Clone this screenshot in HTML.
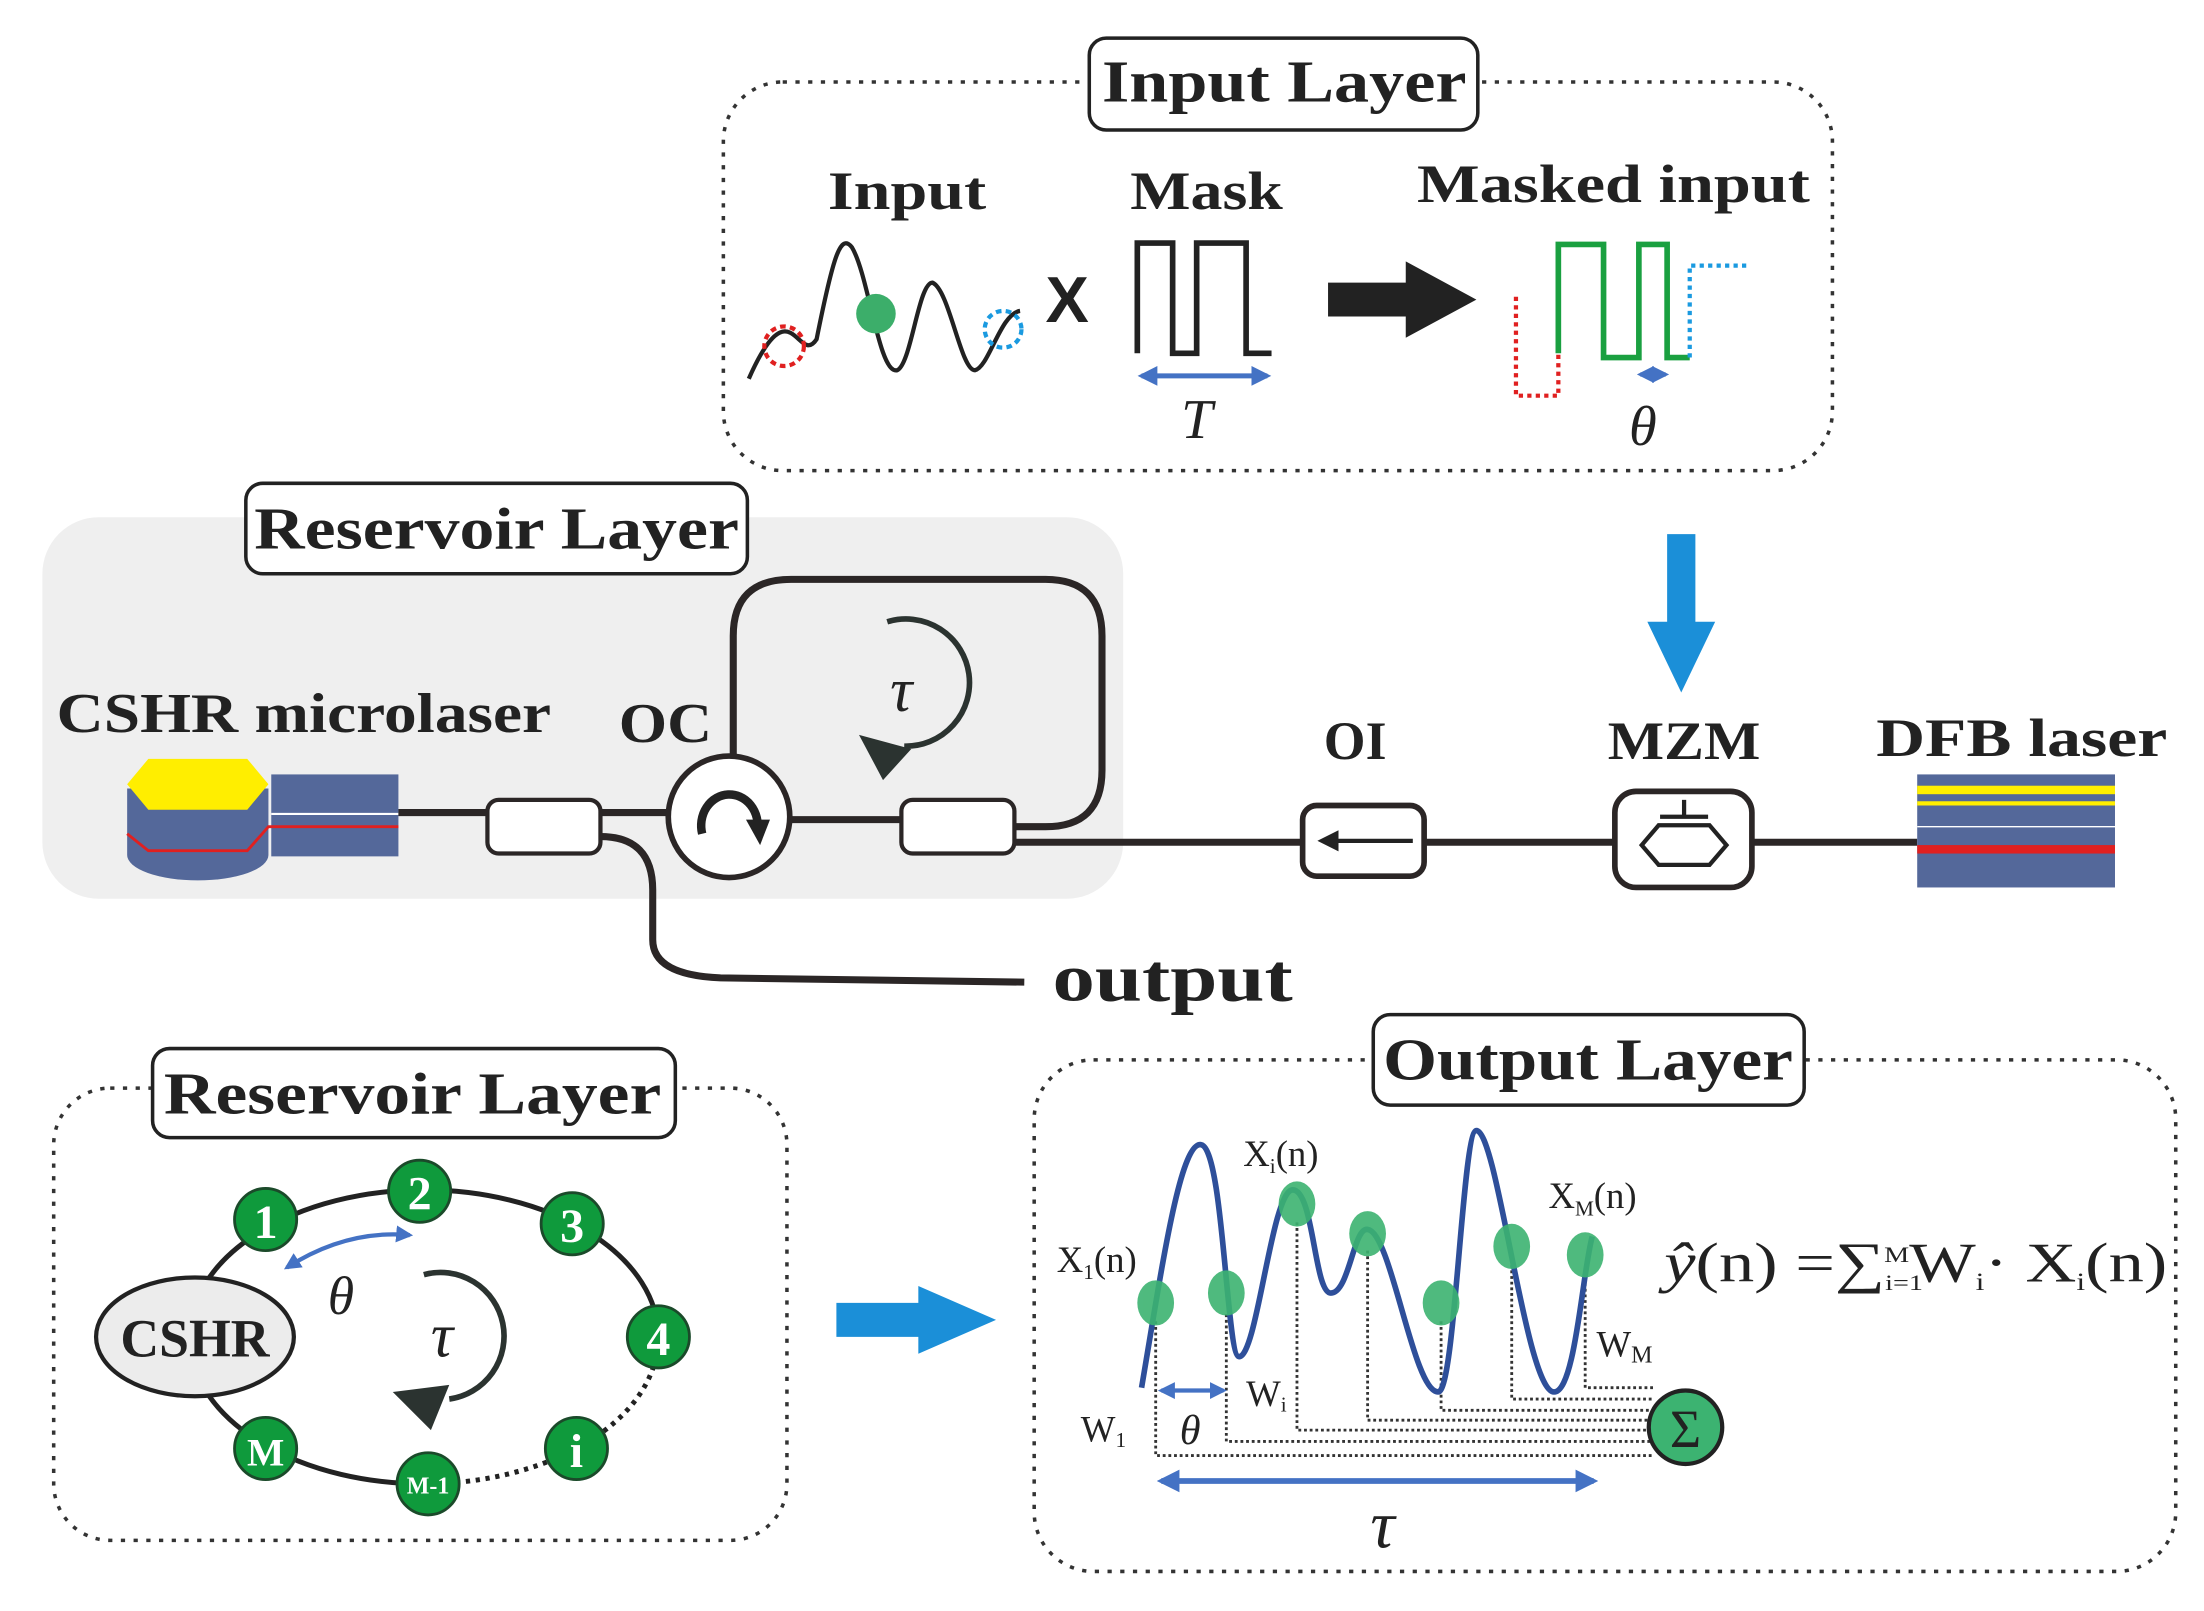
<!DOCTYPE html>
<html><head><meta charset="utf-8"><style>html,body{margin:0;padding:0;background:#fff}svg{display:block}</style></head>
<body>
<svg width="2204" height="1611" viewBox="0 0 1560 1140" preserveAspectRatio="none" xmlns="http://www.w3.org/2000/svg" font-family="Liberation Serif, serif">
<defs>
<marker id="bh" viewBox="0 0 10 10" refX="8" refY="5" markerWidth="4" markerHeight="4" orient="auto-start-reverse"><path d="M0,0L10,5L0,10z" fill="#4472c4"/></marker>
<marker id="kh" viewBox="0 0 10 10" refX="5" refY="5" markerWidth="5" markerHeight="5" orient="auto"><path d="M0,0L10,5L0,10z" fill="#222"/></marker>
</defs>
<!-- Input layer -->
<rect x="512" y="58" width="785" height="275" rx="42" fill="none" stroke="#333" stroke-width="2.5" stroke-dasharray="3,6"/>
<rect x="771" y="27" width="275" height="65" rx="12" fill="#fff" stroke="#222" stroke-width="2.5"/>
<text x="780" y="72" font-size="42" font-weight="bold" fill="#222" textLength="258" lengthAdjust="spacingAndGlyphs">Input Layer</text>
<text x="586" y="148" font-size="38" font-weight="bold" fill="#222" textLength="112" lengthAdjust="spacingAndGlyphs">Input</text>
<text x="800" y="148" font-size="38" font-weight="bold" fill="#222" textLength="108" lengthAdjust="spacingAndGlyphs">Mask</text>
<text x="1003" y="143" font-size="38" font-weight="bold" fill="#222" textLength="278" lengthAdjust="spacingAndGlyphs">Masked input</text>
<path d="M530,268 C560,200 565,260 578,240 C590,180 595,165 603,175 C615,195 622,265 635,262 C645,258 650,200 660,200 C672,205 680,262 690,262 C700,260 708,222 722,220" fill="none" stroke="#222" stroke-width="3"/>
<circle cx="620" cy="222" r="14" fill="#3cae6a"/>
<circle cx="555" cy="245" r="14" fill="none" stroke="#e02020" stroke-width="3" stroke-dasharray="4,3"/>
<circle cx="710" cy="233" r="13" fill="none" stroke="#1a9ae0" stroke-width="3" stroke-dasharray="4,3"/>
<text x="740" y="228" font-size="46" font-weight="bold" font-family="Liberation Sans, sans-serif" fill="#222">X</text>
<path d="M805,250 V172 H830 V250 H847 V172 H882 V250 H900" fill="none" stroke="#222" stroke-width="4"/>
<line x1="808" y1="266" x2="897" y2="266" stroke="#4472c4" stroke-width="3.5" marker-start="url(#bh)" marker-end="url(#bh)"/>
<text x="836" y="310" font-size="40" font-style="italic" fill="#222">T</text>
<path d="M940,200 H995 V185 L1045,212 L995,239 V224 H940 Z" fill="#222"/>
<path d="M1073,210 V280 H1103 V250" fill="none" stroke="#e02020" stroke-width="3" stroke-dasharray="3,3"/>
<path d="M1103,250 V173 H1135 V253 H1160 V173 H1180 V253 H1196" fill="none" stroke="#1aa040" stroke-width="4"/>
<path d="M1196,253 V188 H1237" fill="none" stroke="#1a9ae0" stroke-width="3" stroke-dasharray="3,3"/>
<line x1="1161" y1="265" x2="1179" y2="265" stroke="#4472c4" stroke-width="3" marker-start="url(#bh)" marker-end="url(#bh)"/>
<text x="1153" y="315" font-size="40" font-style="italic" fill="#222">θ</text>
<!-- Reservoir top -->
<rect x="30" y="366" width="765" height="270" rx="40" fill="#efefef"/>
<rect x="174" y="342" width="355" height="64" rx="12" fill="#fff" stroke="#222" stroke-width="2.5"/>
<text x="180" y="388" font-size="42" font-weight="bold" fill="#222" textLength="343" lengthAdjust="spacingAndGlyphs">Reservoir Layer</text>
<text x="40" y="518" font-size="40" font-weight="bold" fill="#222" textLength="350" lengthAdjust="spacingAndGlyphs">CSHR microlaser</text>
<text x="438" y="525" font-size="40" font-weight="bold" fill="#222" textLength="66" lengthAdjust="spacingAndGlyphs">OC</text>
<path d="M90,558 V605 A50,18 0 0 0 190,605 V558 Z" fill="#54689a"/>
<polygon points="90,555 105,537 175,537 190,555 175,573 105,573" fill="#ffee00"/>
<rect x="192" y="548" width="90" height="58" fill="#54689a"/>
<line x1="192" y1="576" x2="282" y2="576" stroke="#fff" stroke-width="1.5"/>
<path d="M90,590 L105,602 H175 L190,585 H282" fill="none" stroke="#e02020" stroke-width="2"/>
<g fill="none" stroke="#2b2626" stroke-width="5">
<line x1="282" y1="575" x2="345" y2="575"/>
<line x1="425" y1="575" x2="473" y2="575"/>
<line x1="560" y1="580" x2="638" y2="580"/>
<path d="M519,534 V450 Q519,410 560,410 H740 Q780,410 780,450 V545 Q780,585 740,585 H718"/>
<line x1="718" y1="596" x2="922" y2="596"/>
<line x1="1008" y1="596" x2="1143" y2="596"/>
<line x1="1240" y1="596" x2="1357" y2="596"/>
<path d="M425,592 Q462,592 462,630 V665 Q462,690 510,692 L725,695"/>
</g>
<rect x="345" y="566" width="80" height="38" rx="8" fill="#fff" stroke="#2b2626" stroke-width="3"/>
<rect x="638" y="566" width="80" height="38" rx="8" fill="#fff" stroke="#2b2626" stroke-width="3"/>
<circle cx="516" cy="578" r="43" fill="#fff" stroke="#2b2626" stroke-width="4"/>
<path d="M497,590 A20,22 0 1 1 536,588" fill="none" stroke="#222" stroke-width="6"/>
<path d="M528,580 L545,580 L538,598 Z" fill="#222"/>
<path d="M628,440 A45,45 0 1 1 640,528" fill="none" stroke="#2b3330" stroke-width="4"/>
<path d="M608,520 L645,530 L625,552 Z" fill="#2b3330"/>
<text x="630" y="503" font-size="44" font-style="italic" fill="#222">τ</text>
<text x="745" y="708" font-size="48" font-weight="bold" fill="#222" textLength="170" lengthAdjust="spacingAndGlyphs">output</text>
<!-- OI -->
<text x="937" y="537" font-size="38" font-weight="bold" fill="#222">OI</text>
<rect x="922" y="570" width="86" height="50" rx="10" fill="#fff" stroke="#2b2626" stroke-width="4"/>
<line x1="1000" y1="595" x2="940" y2="595" stroke="#222" stroke-width="3" marker-end="url(#kh)"/>
<!-- MZM -->
<text x="1138" y="537" font-size="38" font-weight="bold" fill="#222" textLength="108" lengthAdjust="spacingAndGlyphs">MZM</text>
<rect x="1143" y="560" width="97" height="68" rx="15" fill="#fff" stroke="#2b2626" stroke-width="4"/>
<polygon points="1162,598 1174,584 1210,584 1222,598 1210,612 1174,612" fill="none" stroke="#222" stroke-width="3"/>
<line x1="1192" y1="566" x2="1192" y2="578" stroke="#222" stroke-width="3"/><line x1="1175" y1="578" x2="1209" y2="578" stroke="#222" stroke-width="3"/>
<path d="M1180,378 H1200 V440 H1214 L1190,490 L1166,440 H1180 Z" fill="#1b8fd8"/>
<!-- DFB -->
<text x="1328" y="535" font-size="38" font-weight="bold" fill="#222" textLength="206" lengthAdjust="spacingAndGlyphs">DFB laser</text>
<rect x="1357" y="548" width="140" height="80" fill="#54689a"/>
<rect x="1357" y="556" width="140" height="6" fill="#ffee00"/>
<rect x="1357" y="567" width="140" height="3" fill="#ffee00"/>
<rect x="1357" y="598" width="140" height="6" fill="#e02020"/>
<line x1="1357" y1="585" x2="1497" y2="585" stroke="#fff" stroke-width="1"/>
<!-- Bottom-left reservoir -->
<rect x="38" y="770" width="519" height="320" rx="40" fill="none" stroke="#333" stroke-width="2.5" stroke-dasharray="3,6"/>
<rect x="108" y="742" width="370" height="63" rx="12" fill="#fff" stroke="#222" stroke-width="2.5"/>
<text x="116" y="788" font-size="42" font-weight="bold" fill="#222" textLength="352" lengthAdjust="spacingAndGlyphs">Reservoir Layer</text>
<path d="M303,1050 A166,104 0 1 1 466,946" fill="none" stroke="#222" stroke-width="3.5"/>
<path d="M466,946 A166,104 0 0 1 303,1050" fill="none" stroke="#222" stroke-width="3.5" stroke-dasharray="3,4"/>
<ellipse cx="138" cy="946" rx="70" ry="42" fill="#ececec" stroke="#222" stroke-width="3"/>
<text x="138" y="960" font-size="38" font-weight="bold" fill="#222" text-anchor="middle">CSHR</text>
<g fill="#0f9a3c" stroke="#1b4a2a" stroke-width="2">
<circle cx="188" cy="863" r="22"/><circle cx="297" cy="843" r="22"/><circle cx="405" cy="866" r="22"/><circle cx="466" cy="946" r="22"/><circle cx="408" cy="1025" r="22"/><circle cx="303" cy="1050" r="22"/><circle cx="188" cy="1025" r="22"/>
</g>
<g fill="#fff" font-size="34" font-weight="bold" text-anchor="middle">
<text x="188" y="876">1</text><text x="297" y="856">2</text><text x="405" y="879">3</text><text x="466" y="959">4</text><text x="408" y="1038">i</text><text x="188" y="1037" font-size="28">M</text><text x="303" y="1057" font-size="17">M-1</text>
</g>
<path d="M203,897 Q245,870 290,874" fill="none" stroke="#4472c4" stroke-width="3" marker-start="url(#bh)" marker-end="url(#bh)"/>
<text x="232" y="930" font-size="38" font-style="italic" fill="#222">θ</text>
<path d="M300,902 A45,45 0 1 1 318,990" fill="none" stroke="#2b3330" stroke-width="4"/>
<path d="M278,985 L318,980 L305,1012 Z" fill="#2b3330"/>
<text x="305" y="960" font-size="44" font-style="italic" fill="#222">τ</text>
<path d="M592,922 H650 V910 L705,934 L650,958 V946 H592 Z" fill="#1b8fd8"/>
<!-- Output layer -->
<rect x="732" y="750" width="808" height="362" rx="42" fill="none" stroke="#333" stroke-width="2.5" stroke-dasharray="3,6"/>
<rect x="972" y="718" width="305" height="64" rx="12" fill="#fff" stroke="#222" stroke-width="2.5"/>
<text x="979" y="764" font-size="42" font-weight="bold" fill="#222" textLength="290" lengthAdjust="spacingAndGlyphs">Output Layer</text>
<g fill="none" stroke="#333" stroke-width="2" stroke-dasharray="2,2">
<path d="M818,935 V1030 H1170"/><path d="M868,930 V1020 H1170"/><path d="M918,865 V1012 H1170"/><path d="M968,885 V1005 H1170"/><path d="M1020,935 V998 H1170"/><path d="M1070,895 V990 H1170"/><path d="M1122,900 V982 H1170"/>
</g>
<path d="M808,982 C822,900 835,808 850,810 C866,812 868,960 877,960 C890,960 900,842 915,842 C930,842 930,915 942,915 C955,915 958,868 968,870 C985,872 1000,985 1018,985 C1030,985 1035,800 1045,800 C1060,800 1080,985 1100,985 C1115,985 1120,900 1127,875" fill="none" stroke="#2e4f9a" stroke-width="4"/>
<g fill="#3cb371" opacity="0.9">
<ellipse cx="818" cy="922" rx="13" ry="16"/><ellipse cx="868" cy="915" rx="13" ry="16"/><ellipse cx="918" cy="852" rx="13" ry="16"/><ellipse cx="968" cy="873" rx="13" ry="16"/><ellipse cx="1020" cy="922" rx="13" ry="16"/><ellipse cx="1070" cy="882" rx="13" ry="16"/><ellipse cx="1122" cy="888" rx="13" ry="16"/>
</g>
<circle cx="1193" cy="1010" r="26" fill="#3cb371" stroke="#222" stroke-width="3"/>
<text x="1193" y="1024" font-size="38" text-anchor="middle" fill="#222">Σ</text>
<line x1="822" y1="984" x2="866" y2="984" stroke="#4472c4" stroke-width="3" marker-start="url(#bh)" marker-end="url(#bh)"/>
<line x1="822" y1="1048" x2="1128" y2="1048" stroke="#4472c4" stroke-width="4" marker-start="url(#bh)" marker-end="url(#bh)"/>
<g font-size="26" fill="#222">
<text x="748" y="900">X<tspan font-size="15" dy="5">1</tspan><tspan dy="-5">(n)</tspan></text>
<text x="880" y="825">X<tspan font-size="15" dy="5">i</tspan><tspan dy="-5">(n)</tspan></text>
<text x="1096" y="855">X<tspan font-size="15" dy="5">M</tspan><tspan dy="-5">(n)</tspan></text>
<text x="765" y="1020">W<tspan font-size="15" dy="4">1</tspan></text>
<text x="882" y="995">W<tspan font-size="15" dy="4">i</tspan></text>
<text x="1130" y="960">W<tspan font-size="17" dy="4">M</tspan></text>
</g>
<text x="835" y="1022" font-size="30" font-style="italic" fill="#222">θ</text>
<text x="970" y="1095" font-size="48" font-style="italic" fill="#222">τ</text>
<text x="1178" y="907" font-size="40" fill="#222" textLength="356" lengthAdjust="spacingAndGlyphs"><tspan font-style="italic">ŷ</tspan>(n) =∑<tspan font-size="16" dy="6">i=1</tspan><tspan font-size="16" dy="-20" dx="-22">M</tspan><tspan dy="14">W</tspan><tspan font-size="18" dy="6">i</tspan><tspan dy="-6">· X</tspan><tspan font-size="18" dy="6">i</tspan><tspan dy="-6">(n)</tspan></text>
</svg>
</body></html>
